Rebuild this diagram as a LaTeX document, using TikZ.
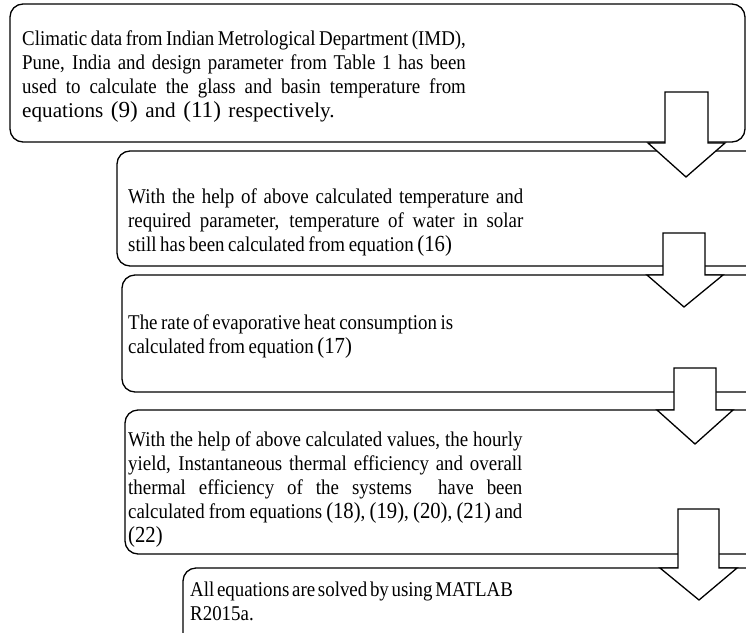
\documentclass[tikz,border=0pt]{standalone}
\usepackage{fontspec}
\setmainfont{Liberation Serif}
\newcommand{\stepfont}{\fontsize{21}{24}\selectfont\spaceskip=4pt plus 6pt minus 1pt\relax}
\tikzset{stepbox/.style={draw, line width=1.3pt, rounded corners=13pt},
  steptext/.style={anchor=base west, inner sep=0pt, font=\stepfont},
  blockarrow/.style={draw, fill=white, line width=1.3pt, line join=miter}}
% narrow paragraph of a given width
\newcommand{\steppar}[2]{\scalebox{0.9}[1]{\parbox[t]{#1}{#2}}}
% justified line of a given width
\newcommand{\jl}[2]{\makebox[#1][s]{#2}\\}
% equation numbers, set a little larger
\newcommand{\eqn}[1]{{\fontsize{23}{24}\selectfont(#1)}}
\begin{document}
\begin{tikzpicture}[x=1pt, y=-1pt]
\clip (0,0) rectangle (746,632);
% boxes
\draw[stepbox] (10,4) rectangle (745,142);
\node[steptext] (climate) at (22,45) {\steppar{493pt}{\jl{493pt}{Climatic data from Indian Metrological Department (IMD),}\jl{493pt}{Pune, India and design parameter from Table 1 has been}\jl{493pt}{used to calculate the glass and basin temperature from}\scalebox{1.12}[1]{\makebox[310pt][s]{equations \eqn{9} and \eqn{11} respectively.}}}};
\draw[stepbox] (117,151) rectangle (770,266);
\node[steptext] (water) at (128,203) {\steppar{439pt}{\jl{439pt}{With the help of above calculated temperature and}\jl{439pt}{required parameter, temperature of water in solar}still has been calculated from equation \eqn{16}}};
\draw[stepbox] (122,275) rectangle (770,392);
\node[steptext] (evap) at (128,329) {\steppar{439pt}{The rate of evaporative heat consumption is\\calculated from equation \eqn{17}}};
\draw[stepbox] (125,410) rectangle (770,554);
\node[steptext] (yield) at (128,446) {\steppar{438pt}{\jl{438pt}{With the help of above calculated values, the hourly}\jl{438pt}{yield, Instantaneous thermal efficiency and overall}\jl{438pt}{thermal efficiency of the systems\ \ have been}\jl{438pt}{calculated from equations \eqn{18}, \eqn{19}, \eqn{20}, \eqn{21} and}\eqn{22}}};
\draw[stepbox] (183,568) rectangle (770,650);
\node[steptext] (matlab) at (190,596) {\spaceskip=3pt\relax\steppar{439pt}{All equations are solved by using MATLAB\\R2015a.}};
% arrows
\draw[blockarrow] (665,92) -- (665,143) -- (648,143) -- (686,177) -- (725,143) -- (708,143) -- (708,92) -- cycle;
\draw[blockarrow] (663,233) -- (663,275) -- (647,275) -- (684,307) -- (723,275) -- (705,275) -- (705,233) -- cycle;
\draw[blockarrow] (674,368) -- (674,410) -- (657,410) -- (695,444) -- (733,410) -- (716,410) -- (716,368) -- cycle;
\draw[blockarrow] (678,509) -- (678,568) -- (660,568) -- (699,600) -- (737,568) -- (719,568) -- (719,509) -- cycle;
\end{tikzpicture}
\end{document}
